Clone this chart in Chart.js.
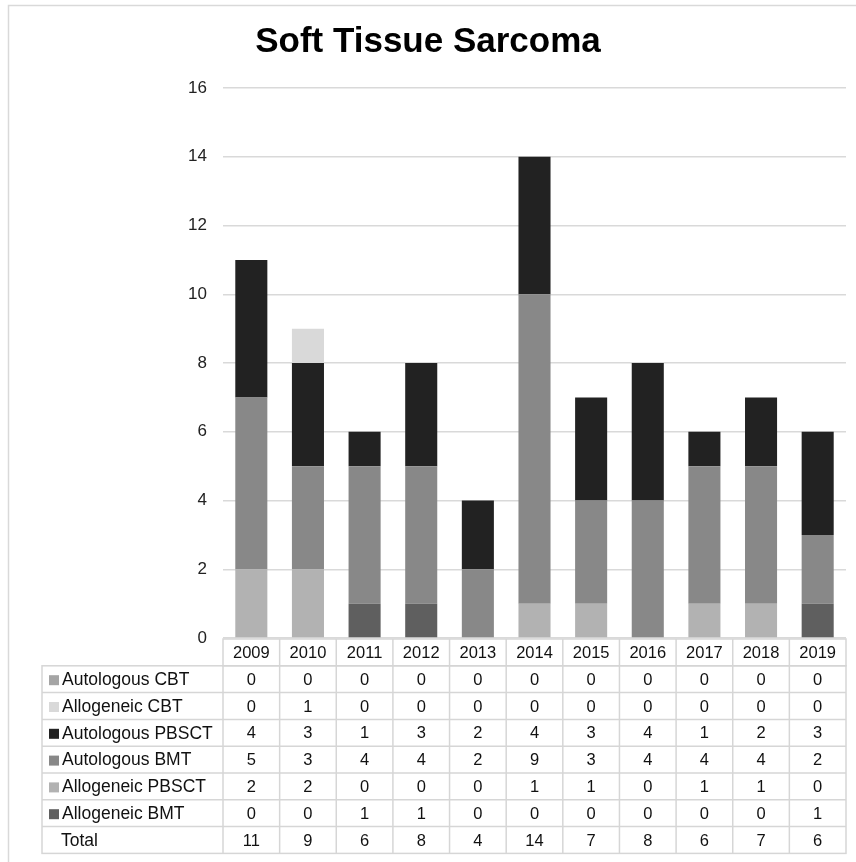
<!DOCTYPE html>
<html>
<head>
<meta charset="utf-8">
<script src="https://cdn.jsdelivr.net/npm/chart.js@4.4.0/dist/chart.umd.min.js"></script>
<style>
  html, body { margin: 0; padding: 0; background: #fff; }
  canvas { display: block; }
</style>
</head>
<body>
<canvas id="stsChart" width="856" height="862"></canvas>
<script>
// Soft Tissue Sarcoma - transplants per year
const years = ['2009', '2010', '2011', '2012', '2013', '2014', '2015', '2016', '2017', '2018', '2019'];
const alloBMT   = [0, 0, 1, 1, 0, 0, 0, 0, 0, 0, 1];
const alloPBSCT = [2, 2, 0, 0, 0, 1, 1, 0, 1, 1, 0];
const autoBMT   = [5, 3, 4, 4, 2, 9, 3, 4, 4, 4, 2];
const autoPBSCT = [4, 3, 1, 3, 2, 4, 3, 4, 1, 2, 3];
const alloCBT   = [0, 1, 0, 0, 0, 0, 0, 0, 0, 0, 0];
const autoCBT   = [0, 0, 0, 0, 0, 0, 0, 0, 0, 0, 0];
const totals    = [11, 9, 6, 8, 4, 14, 7, 8, 6, 7, 6];
const yTicks    = [0, 2, 4, 6, 8, 10, 12, 14, 16];

const FONT = 'Liberation Sans, Arial, sans-serif';

// bottom to top in the stack
const series = [
    { label: 'Allogeneic BMT',   data: alloBMT,   color: '#5f5f5f' },
    { label: 'Allogeneic PBSCT', data: alloPBSCT, color: '#b2b2b2' },
    { label: 'Autologous BMT',   data: autoBMT,   color: '#888888' },
    { label: 'Autologous PBSCT', data: autoPBSCT, color: '#222222' },
    { label: 'Allogeneic CBT',   data: alloCBT,   color: '#d9d9d9' },
    { label: 'Autologous CBT',   data: autoCBT,   color: '#a5a5a5' }
];

// title, frame and the data table under the plot
const tablePlugin = {
    id: 'tablePlugin',
    afterDraw(chart) {
        const c = chart.ctx;
        const xs = chart.scales.x;
        const area = chart.chartArea;
        c.save();

        // outer frame (top and left only)
        c.strokeStyle = '#d9d9d9';
        c.lineWidth = 1.5;
        c.beginPath();
        c.moveTo(8.5, 862);
        c.lineTo(8.5, 5.5);
        c.lineTo(856, 5.5);
        c.stroke();

        // title
        c.fillStyle = '#000';
        c.font = 'bold 35px ' + FONT;
        c.textAlign = 'center';
        c.textBaseline = 'middle';
        c.fillText('Soft Tissue Sarcoma', 428, 42);

        const step = (xs.getPixelForValue(1) - xs.getPixelForValue(0));
        const left = 42, right = area.right;
        const top = area.bottom + 1;
        const rowH = 26.8;
        const rows = series.slice().reverse();
        const nRows = rows.length + 1;

        c.strokeStyle = '#d6d6d6';
        c.lineWidth = 1.5;
        // header row box
        c.strokeRect(area.left, top, right - area.left, rowH);
        for (let i = 1; i < years.length; i++) {
            const x = xs.getPixelForValue(i) - step / 2;
            c.beginPath();
            c.moveTo(x, top);
            c.lineTo(x, top + rowH * (nRows + 1));
            c.stroke();
        }
        // body rows
        const bodyTop = top + rowH;
        c.strokeRect(left, bodyTop, right - left, rowH * nRows);
        for (let r = 1; r < nRows; r++) {
            c.beginPath();
            c.moveTo(left, bodyTop + r * rowH);
            c.lineTo(right, bodyTop + r * rowH);
            c.stroke();
        }
        c.beginPath();
        c.moveTo(area.left, bodyTop);
        c.lineTo(area.left, bodyTop + rowH * nRows);
        c.stroke();

        const numFont = '16.5px ' + FONT;
        const labFont = '17.5px ' + FONT;
        c.font = numFont;
        c.fillStyle = '#111';
        c.textAlign = 'center';
        years.forEach((y, i) => {
            c.fillText(y, xs.getPixelForValue(i), top + rowH / 2 + 1);
        });

        rows.forEach((s, r) => {
            const cy = bodyTop + r * rowH + rowH / 2 + 1;
            c.fillStyle = s.color;
            c.fillRect(49, cy - 5, 10, 10);
            c.fillStyle = '#111';
            c.textAlign = 'left';
            c.font = labFont;
            c.fillText(s.label, 62, cy);
            c.textAlign = 'center';
            c.font = numFont;
            s.data.forEach((v, i) => c.fillText(String(v), xs.getPixelForValue(i), cy));
        });
        const ty = bodyTop + rows.length * rowH + rowH / 2 + 1;
        c.textAlign = 'left';
        c.font = labFont;
        c.fillText('Total', 61, ty);
        c.textAlign = 'center';
        c.font = numFont;
        totals.forEach((v, i) => c.fillText(String(v), xs.getPixelForValue(i), ty));

        c.restore();
    }
};

const ctx = document.getElementById('stsChart').getContext('2d');
const stsChart = new Chart(ctx, {
    type: 'bar',
    data: {
        labels: years,
        datasets: series.map(s => ({
            label: s.label,
            data: s.data,
            backgroundColor: s.color,
            borderWidth: 0,
            barPercentage: 0.566,
            categoryPercentage: 1
        }))
    },
    options: {
        responsive: false,
        animation: false,
        layout: { padding: { top: 88, bottom: 224, left: 0, right: 10 } },
        plugins: {
            legend: { display: false },
            title: { display: false },
            tooltip: { enabled: false }
        },
        scales: {
            x: { stacked: true, display: false },
            y: {
                stacked: true,
                min: 0,
                max: 16,
                afterBuildTicks: (scale) => { scale.ticks = yTicks.map(v => ({ value: v })); },
                afterFit: (scale) => { scale.width = 223; },
                border: { display: false },
                grid: { color: '#d9d9d9', lineWidth: 1.5, drawTicks: false },
                ticks: {
                    padding: 16,
                    color: '#222',
                    font: { family: FONT, size: 17 }
                }
            }
        }
    },
    plugins: [tablePlugin]
});
</script>
</body>
</html>
